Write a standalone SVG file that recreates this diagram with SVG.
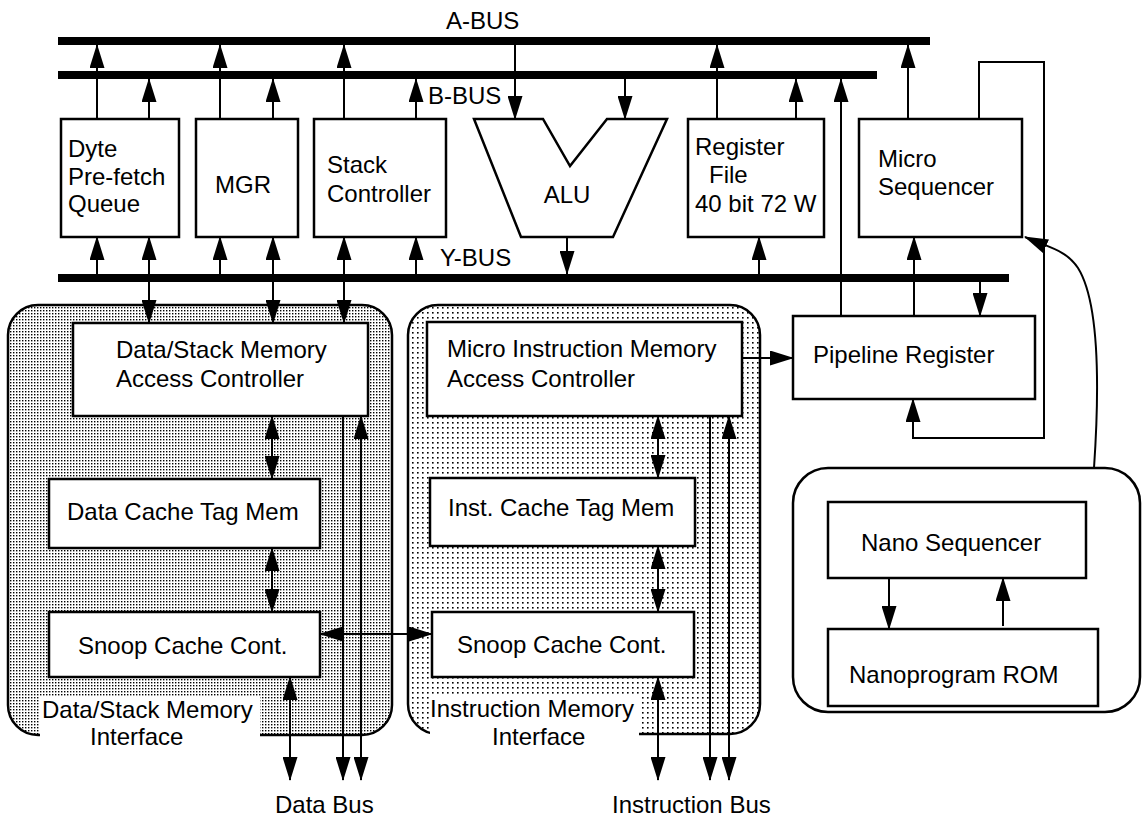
<svg xmlns="http://www.w3.org/2000/svg" width="1143" height="820" viewBox="0 0 1143 820">
<defs>
<style>
.t{font-family:"Liberation Sans",Arial,Helvetica,sans-serif;font-size:24px;fill:#000}
.box{fill:#fff;stroke:#000;stroke-width:2.5}
.ln{fill:none;stroke:#000;stroke-width:2}
.a{marker-end:url(#ah)}
.b{marker-start:url(#ah);marker-end:url(#ah)}
.bus{fill:#000}
</style>
<marker id="ah" viewBox="0 0 24 15" markerWidth="24" markerHeight="15" refX="23" refY="7.5" orient="auto-start-reverse" markerUnits="userSpaceOnUse">
<path d="M0,0 L24,7.5 L0,15 z" fill="#000"/>
</marker>
<pattern id="dense" width="3" height="3" patternUnits="userSpaceOnUse">
<rect width="3" height="3" fill="#fff"/>
<rect x="1" y="1" width="1.4" height="1.4" fill="#000"/>
</pattern>
<pattern id="sparse" width="5" height="5" patternUnits="userSpaceOnUse">
<rect width="5" height="5" fill="#fff"/>
<rect x="2" y="2" width="1.6" height="1.6" fill="#000"/>
</pattern>
</defs>
<rect width="1143" height="820" fill="#fff"/>

<g id="data-interface">
<rect x="8" y="305" width="384" height="430" rx="30" fill="url(#dense)" stroke="#000" stroke-width="2.5"/>
<rect x="40" y="697" width="220" height="42" fill="#fff"/>
<text class="t" x="42" y="718">Data/Stack Memory</text>
<text class="t" x="90" y="745">Interface</text>
</g>
<g id="instr-interface">
<rect x="408" y="305" width="352" height="429" rx="30" fill="url(#sparse)" stroke="#000" stroke-width="2.5"/>
<rect x="430" y="697" width="209" height="42" fill="#fff"/>
<text class="t" x="430" y="717">Instruction Memory</text>
<text class="t" x="492" y="745">Interface</text>
</g>
<g id="nano-unit">
<rect x="793" y="468" width="347" height="244" rx="35" fill="#fff" stroke="#000" stroke-width="2.5"/>
</g>

<g id="buses">
<g id="a-bus"><rect class="bus" x="58" y="37" width="872" height="8"/><text class="t" x="446" y="29">A-BUS</text></g>
<g id="b-bus"><rect class="bus" x="58" y="71" width="819" height="8"/><text class="t" x="428" y="104">B-BUS</text></g>
<g id="y-bus"><rect class="bus" x="58" y="274" width="951" height="8"/><text class="t" x="440" y="266">Y-BUS</text></g>
</g>

<g id="dyte"><rect class="box" x="61" y="119" width="118" height="118"/>
<text class="t" x="68" y="157">Dyte</text><text class="t" x="68" y="185">Pre-fetch</text><text class="t" x="68" y="212">Queue</text></g>
<g id="mgr"><rect class="box" x="196" y="119" width="102" height="118"/>
<text class="t" x="215" y="193">MGR</text></g>
<g id="stack"><rect class="box" x="314" y="119" width="132" height="118"/>
<text class="t" x="327" y="173">Stack</text><text class="t" x="327" y="202">Controller</text></g>
<g id="alu"><polygon class="box" points="474,119 543,119 570,166 607,119 667,119 613,237 521,237"/>
<text class="t" x="567" y="203" text-anchor="middle">ALU</text></g>
<g id="regfile"><rect class="box" x="688" y="119" width="136" height="118"/>
<text class="t" x="695" y="155">Register</text><text class="t" x="709" y="183">File</text><text class="t" x="695" y="212">40 bit 72 W</text></g>
<g id="microseq"><rect class="box" x="859" y="119" width="163" height="118"/>
<text class="t" x="878" y="167">Micro</text><text class="t" x="878" y="195">Sequencer</text></g>
<g id="pipeline"><rect class="box" x="793" y="316" width="242" height="83"/>
<text class="t" x="813" y="363">Pipeline Register</text></g>

<g id="data-ctrl"><rect class="box" x="73" y="323" width="295" height="93"/>
<text class="t" x="116" y="358">Data/Stack Memory</text><text class="t" x="116" y="387">Access Controller</text></g>
<g id="data-tag"><rect class="box" x="49" y="479" width="271" height="69"/>
<text class="t" x="67" y="520">Data Cache Tag Mem</text></g>
<g id="data-snoop"><rect class="box" x="49" y="612" width="271" height="65"/>
<text class="t" x="78" y="654">Snoop Cache Cont.</text></g>

<g id="instr-ctrl"><rect class="box" x="427" y="322" width="315" height="94"/>
<text class="t" x="447" y="357">Micro Instruction Memory</text><text class="t" x="447" y="387">Access Controller</text></g>
<g id="instr-tag"><rect class="box" x="430" y="478" width="265" height="68"/>
<text class="t" x="448" y="516">Inst. Cache Tag Mem</text></g>
<g id="instr-snoop"><rect class="box" x="432" y="612" width="262" height="65"/>
<text class="t" x="457" y="653">Snoop Cache Cont.</text></g>

<g id="nano-seq"><rect class="box" x="828" y="502" width="258" height="76"/>
<text class="t" x="861" y="551">Nano Sequencer</text></g>
<g id="nano-rom"><rect class="box" x="828" y="629" width="270" height="77"/>
<text class="t" x="849" y="683">Nanoprogram ROM</text></g>

<g id="bus-labels">
<text class="t" x="275" y="813">Data Bus</text>
<text class="t" x="612" y="813">Instruction Bus</text>
</g>

<g id="connectors">
<line class="ln a" x1="97" y1="119" x2="97" y2="45"/>
<line class="ln a" x1="149" y1="119" x2="149" y2="79"/>
<line class="ln a" x1="220" y1="119" x2="220" y2="45"/>
<line class="ln a" x1="273" y1="119" x2="273" y2="79"/>
<line class="ln a" x1="344" y1="119" x2="344" y2="45"/>
<line class="ln a" x1="416" y1="119" x2="416" y2="79"/>
<line class="ln a" x1="515" y1="45" x2="515" y2="119"/>
<line class="ln a" x1="625" y1="79" x2="625" y2="119"/>
<line class="ln a" x1="717" y1="119" x2="717" y2="45"/>
<line class="ln a" x1="796" y1="119" x2="796" y2="79"/>
<line class="ln a" x1="841" y1="316" x2="841" y2="79"/>
<line class="ln a" x1="908" y1="119" x2="908" y2="45"/>

<line class="ln a" x1="97" y1="274" x2="97" y2="237"/>
<line class="ln b" x1="149" y1="323" x2="149" y2="237"/>
<line class="ln a" x1="220" y1="274" x2="220" y2="237"/>
<line class="ln b" x1="273" y1="323" x2="273" y2="237"/>
<line class="ln b" x1="344" y1="323" x2="344" y2="237"/>
<line class="ln a" x1="416" y1="274" x2="416" y2="237"/>
<line class="ln a" x1="567" y1="237" x2="567" y2="274"/>
<line class="ln a" x1="759" y1="274" x2="759" y2="237"/>
<line class="ln a" x1="914" y1="316" x2="914" y2="237"/>
<line class="ln a" x1="980" y1="282" x2="980" y2="316"/>
<polyline class="ln a" points="979,119 979,62 1044,62 1044,438 913,438 913,399"/>
<path class="ln a" d="M1094,468 C1100,380 1098,300 1078,268 C1066,250 1050,248 1025,237"/>
<line class="ln a" x1="742" y1="358" x2="793" y2="358"/>

<line class="ln b" x1="272" y1="416" x2="272" y2="479"/>
<line class="ln b" x1="272" y1="548" x2="272" y2="612"/>
<line class="ln b" x1="290" y1="677" x2="290" y2="780"/>
<line class="ln a" x1="343" y1="416" x2="343" y2="780"/>
<line class="ln b" x1="361" y1="416" x2="361" y2="780"/>
<line class="ln b" x1="320" y1="634" x2="432" y2="634"/>

<line class="ln b" x1="658" y1="416" x2="658" y2="478"/>
<line class="ln b" x1="658" y1="546" x2="658" y2="612"/>
<line class="ln b" x1="658" y1="677" x2="658" y2="780"/>
<line class="ln a" x1="710" y1="416" x2="710" y2="780"/>
<line class="ln b" x1="729" y1="416" x2="729" y2="780"/>

<line class="ln a" x1="889" y1="578" x2="889" y2="629"/>
<line class="ln a" x1="1003" y1="626" x2="1003" y2="578"/>
</g>
</svg>
